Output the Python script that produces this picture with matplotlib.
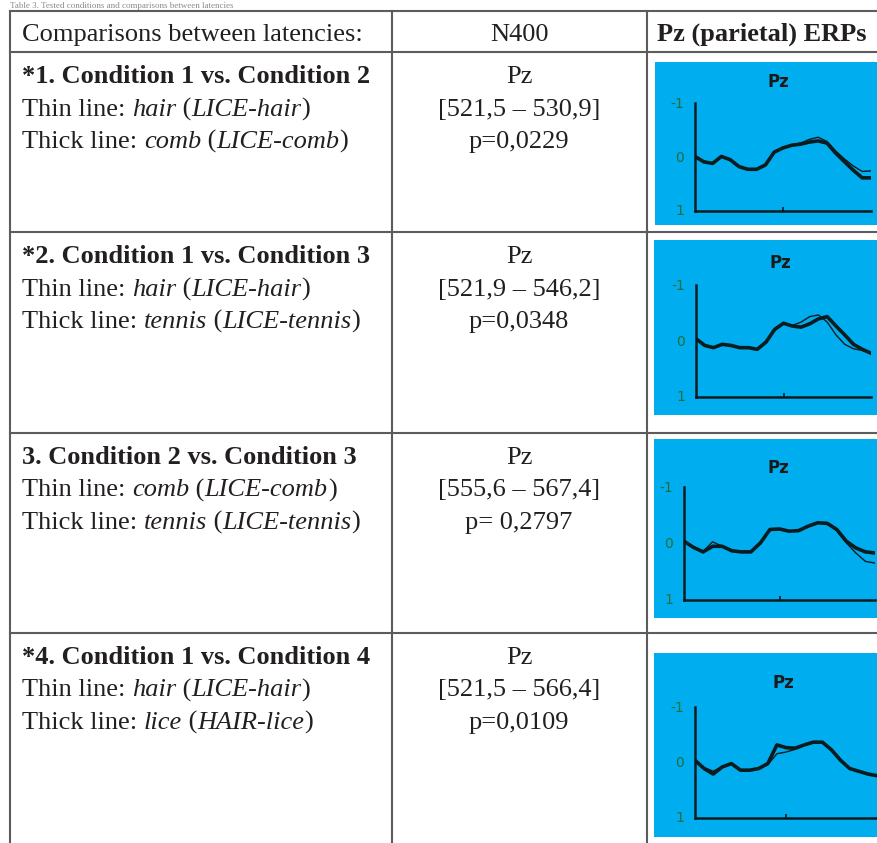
"""
Table of tested conditions with small Pz ERP panels, rebuilt in matplotlib.
"""
import matplotlib.pyplot as plt
from matplotlib.patches import Rectangle

W, H = 877, 843

# ---- table text ----
caption = "Table 3. Tested conditions and comparisons between latencies"
header = ["Comparisons between latencies:", "N400", "Pz (parietal) ERPs"]
row_titles = ["*1. Condition 1 vs. Condition 2", "*2. Condition 1 vs. Condition 3",
              "3. Condition 2 vs. Condition 3", "*4. Condition 1 vs. Condition 4"]
thin_word = ["hair", "hair", "comb", "hair"]
thin_code = ["LICE-hair", "LICE-hair", "LICE-comb", "LICE-hair"]
thick_word = ["comb", "tennis", "tennis", "lice"]
thick_code = ["LICE-comb", "LICE-tennis", "LICE-tennis", "HAIR-lice"]
electrodes = ["Pz", "Pz", "Pz", "Pz"]
windows = ["[521,5 – 530,9]", "[521,9 – 546,2]", "[555,6 – 567,4]", "[521,5 – 566,4]"]
pvalues = ["p=0,0229", "p=0,0348", "p= 0,2797", "p=0,0109"]

# ---- ERP traces (negative up) ----
times = [0, 50, 100, 150, 200, 250, 300, 350, 400, 450, 500,
         550, 600, 650, 700, 750, 800, 850, 900, 950, 1000]
erp_thick = [
    [0.0, 0.10, 0.13, 0.0, 0.06, 0.19, 0.24, 0.24, 0.16, -0.08, -0.16,
     -0.21, -0.23, -0.27, -0.29, -0.25, -0.06, 0.10, 0.26, 0.40, 0.40],
    [-0.03, 0.09, 0.13, 0.07, 0.09, 0.13, 0.13, 0.16, 0.03, -0.20, -0.31,
     -0.26, -0.24, -0.30, -0.39, -0.43, -0.26, -0.10, 0.07, 0.16, 0.23],
    [-0.03, 0.08, 0.16, 0.06, 0.06, 0.14, 0.16, 0.16, 0.0, -0.24, -0.25,
     -0.21, -0.22, -0.30, -0.36, -0.35, -0.24, -0.03, 0.09, 0.16, 0.18],
    [-0.03, 0.12, 0.22, 0.09, 0.03, 0.15, 0.15, 0.12, 0.03, -0.31, -0.26,
     -0.25, -0.31, -0.36, -0.36, -0.22, -0.03, 0.12, 0.17, 0.22, 0.25],
]
erp_thin = [
    [0.0, 0.09, 0.12, 0.01, 0.06, 0.18, 0.23, 0.23, 0.15, -0.08, -0.17,
     -0.22, -0.25, -0.32, -0.36, -0.28, -0.10, 0.05, 0.18, 0.28, 0.27],
    [-0.03, 0.08, 0.12, 0.06, 0.09, 0.12, 0.13, 0.15, 0.02, -0.21, -0.30,
     -0.27, -0.33, -0.43, -0.46, -0.33, -0.10, 0.07, 0.15, 0.18, 0.23],
    [-0.03, 0.07, 0.15, -0.02, 0.06, 0.13, 0.15, 0.15, -0.01, -0.23, -0.24,
     -0.21, -0.22, -0.31, -0.37, -0.35, -0.22, 0.0, 0.18, 0.33, 0.36],
    [-0.03, 0.10, 0.17, 0.08, 0.03, 0.14, 0.15, 0.12, 0.05, -0.15, -0.18,
     -0.23, -0.30, -0.35, -0.36, -0.22, -0.03, 0.12, 0.17, 0.22, 0.25],
]

SERIF = "Liberation Serif"
FS = 19
INK = "#231f20"
LINE = "#5c5c5c"
BLUE = "#00aeef"
TRACE = "#0b1b1e"

fig = plt.figure(figsize=(W / 100, H / 100), dpi=100)
fig.patch.set_facecolor("white")
ax = fig.add_axes([0, 0, 1, 1])
ax.set_xlim(0, W)
ax.set_ylim(H, 0)
ax.axis("off")
renderer = fig.canvas.get_renderer()


def runs(x, y, parts):
    # draw pieces of text one after another on the same baseline
    for txt, style in parts:
        t = ax.text(x, y, txt, fontsize=FS, family=SERIF, style=style,
                    va="baseline", ha="left", color=INK)
        x += t.get_window_extent(renderer).width


def px_axes(left, top, right, bottom):
    return fig.add_axes([left / W, 1 - bottom / H, (right - left) / W, (bottom - top) / H])


# caption squeezed above the table
ax.text(10, 8.5, caption, fontsize=6.5, family=SERIF, va="baseline", color="#8a8a8a")

# table grid
row_lines = [11, 52, 232, 433, 633]
for y in row_lines:
    ax.plot([10, W], [y, y], color=LINE, lw=1.5)
for x in [10, 392, 647]:
    ax.plot([x, x], [11, H], color=LINE, lw=1.5)

# header
ax.text(22, 41, header[0], fontsize=FS, family=SERIF, va="baseline", color=INK)
ax.text(519, 41, header[1], fontsize=FS, family=SERIF, va="baseline", ha="center",
        color=INK)
ax.text(762, 41, header[2], fontsize=FS, family=SERIF, va="baseline", ha="center",
        weight="bold", color=INK)

# blue panel boxes and inner plot boxes (pixels)
panels = [(655, 62, 225), (654, 240, 415), (654, 439, 618), (654, 653, 837)]
plots = [(695, 103, 871, 211), (696, 285, 871, 397), (684, 487, 875, 600),
         (695, 707, 877, 818)]
pz_pos = [(778, 82), (780, 263), (778, 468), (783, 683)]

for i in range(4):
    base = row_lines[i + 1] + 31
    ax.text(22, base, row_titles[i], fontsize=FS, family=SERIF, weight="bold",
            va="baseline", color=INK)
    runs(22, base + 32.5, [("Thin line: ", "normal"), (thin_word[i], "italic"),
                           (" (", "normal"), (thin_code[i], "italic"), (")", "normal")])
    runs(22, base + 65, [("Thick line: ", "normal"), (thick_word[i], "italic"),
                         (" (", "normal"), (thick_code[i], "italic"), (")", "normal")])
    for k, s in enumerate([electrodes[i], windows[i], pvalues[i]]):
        ax.text(519, base + 32.5 * k, s, fontsize=FS, family=SERIF, ha="center",
                va="baseline", color=INK)

    px, top, bot = panels[i]
    ax.add_patch(Rectangle((px, top), W - px, bot - top, facecolor=BLUE,
                           edgecolor="none", zorder=0))
    ax.text(pz_pos[i][0], pz_pos[i][1], "Pz", fontsize=12, weight="bold",
            ha="center", va="center", color="#1a1a1a")

    l, t, r, b = plots[i]
    ea = px_axes(l, t, r, b)
    ea.patch.set_alpha(0)
    ea.plot(times, erp_thin[i], color=TRACE, lw=1.0)
    ea.plot(times, erp_thick[i], color=TRACE, lw=2.6)
    ea.set_xlim(0, 1000)
    ea.set_ylim(1.02, -1)
    for s in ["top", "right"]:
        ea.spines[s].set_visible(False)
    for s in ["left", "bottom"]:
        ea.spines[s].set_color(TRACE)
        ea.spines[s].set_linewidth(1.8)
    ea.set_xticks([500])
    ea.set_xticklabels([])
    ea.tick_params(axis="x", direction="in", length=3, width=1.2, color=TRACE)
    ea.set_yticks([-1, 0, 1])
    ea.set_yticklabels(["-1", "0", "1"])
    ea.tick_params(axis="y", length=0, pad=8, labelsize=10, labelcolor="#1d6e3c")

fig.savefig("out.png", dpi=100)
